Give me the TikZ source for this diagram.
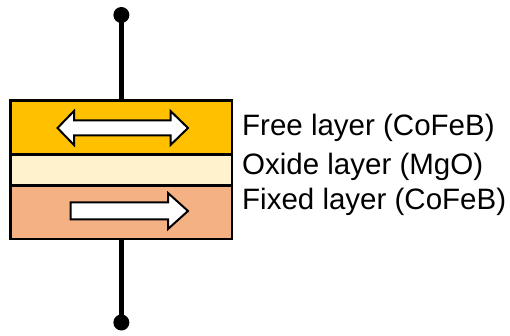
\documentclass[tikz,border=0pt]{standalone}
\usepackage{fontspec}
\setmainfont{Liberation Sans}
\definecolor{freec}{HTML}{FFC000}
\definecolor{oxidec}{HTML}{FFF2CC}
\definecolor{fixedc}{HTML}{F4B183}
\begin{document}
\begin{tikzpicture}[x=1pt,y=-1pt,
  layerbox/.style={draw=black, line width=2.5pt, minimum width=221.3pt, inner sep=0pt, outer sep=0pt},
  dotnode/.style={circle, fill=black, minimum size=16pt, inner sep=0pt},
  wire/.style={line width=4.5pt, draw=black},
  spinarrow/.style={draw=black, fill=white, line width=2pt, line join=miter},
  lbl/.style={anchor=base west, inner sep=0pt, font=\fontsize{29.5}{30}\selectfont}]
\useasboundingbox (0,0) rectangle (510,336);
% layers
\node[layerbox, fill=freec, minimum height=54pt] (free) at (121.35,127.7) {};
\node[layerbox, fill=fixedc, minimum height=53.3pt] (fixed) at (121.35,212.35) {};
\node[layerbox, fill=oxidec, minimum height=31pt] (oxide) at (121.35,170.2) {};
% terminals
\node[dotnode] (top) at (121.35,15) {};
\node[dotnode] (bot) at (121.35,322.5) {};
\draw[wire] (top.center) -- (free.north);
\draw[wire] (fixed.south) -- (bot.center);
% free layer double arrow
\draw[spinarrow] (57.5,128) -- (74,111) -- (74,120.5) -- (170.5,120.5) -- (170.5,111)
  -- (188,128) -- (170.5,145) -- (170.5,135.5) -- (74,135.5) -- (74,145) -- cycle;
% fixed layer arrow
\draw[spinarrow] (70.5,202.5) -- (168,202.5) -- (168,193) -- (188,211) -- (168,229)
  -- (168,219.5) -- (70.5,219.5) -- cycle;
% labels
\node[lbl] (tfree) at (242,136) {Free layer (CoFeB)};
\node[lbl] (toxide) at (242,174.7) {Oxide layer (MgO)};
\node[lbl] (tfixed) at (242,209.7) {Fixed layer (CoFeB)};
\end{tikzpicture}
\end{document}
